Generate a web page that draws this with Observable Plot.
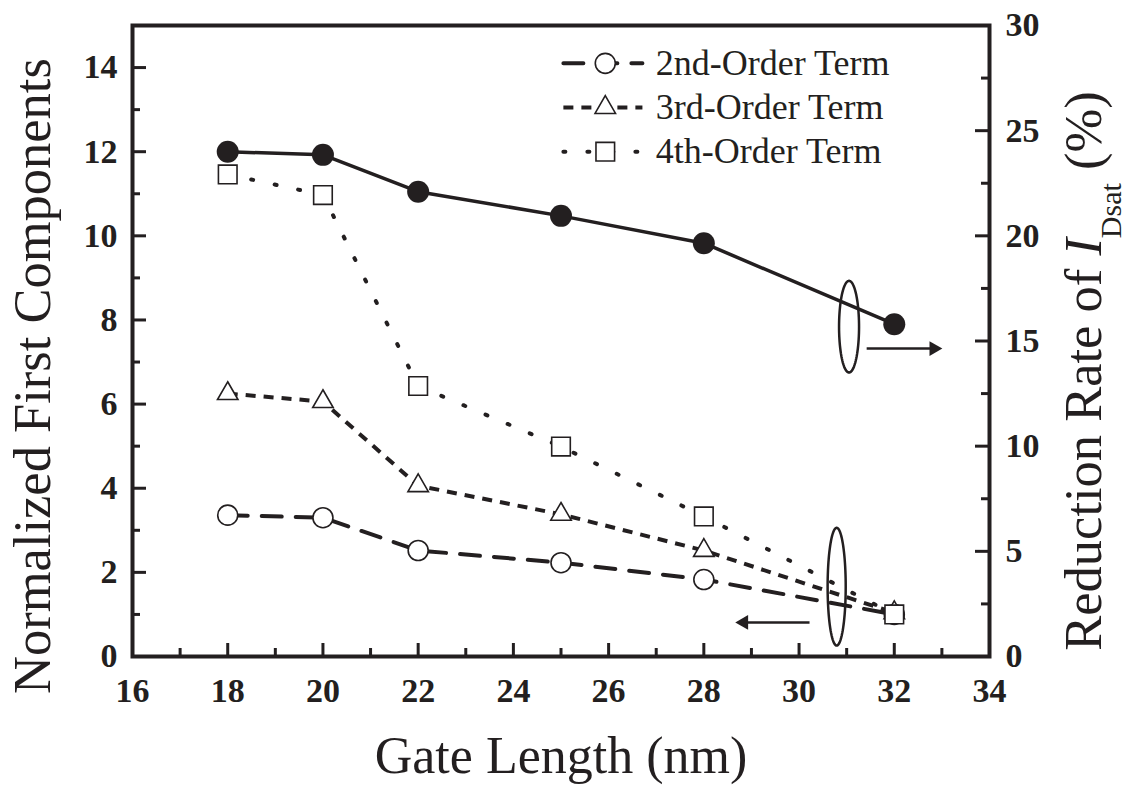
<!DOCTYPE html>
<html>
<head>
<meta charset="utf-8">
<script src="https://cdn.jsdelivr.net/npm/d3@7"></script>
<script src="https://cdn.jsdelivr.net/npm/@observablehq/plot@0.6"></script>
<style>
  html, body { margin: 0; padding: 0; background: #fff; }
  #chart { width: 1130px; height: 787px; }
  #chart svg, #chart svg text, #chart svg tspan {
    font-family: "Liberation Serif", "Times New Roman", Times, "DejaVu Serif", serif !important;
  }
</style>
</head>
<body>
<div id="chart"></div>
<script>
// ---- data ----
const gateLength    = [18, 20, 22, 25, 28, 32];
const reductionRate = [24.0, 23.85, 22.1, 20.95, 19.65, 15.8]; // right axis, %
const secondOrder   = [3.36, 3.30, 2.52, 2.23, 1.83, 1.00];
const thirdOrder    = [6.25, 6.06, 4.06, 3.38, 2.52, 1.04];
const fourthOrder   = [11.46, 10.97, 6.43, 4.99, 3.33, 1.00];

const xTickLabels     = [16, 18, 20, 22, 24, 26, 28, 30, 32, 34];
const xMinorTicks     = [17, 19, 21, 23, 25, 27, 29, 31, 33];
const leftTickLabels  = [0, 2, 4, 6, 8, 10, 12, 14];
const leftMinorTicks  = [1, 3, 5, 7, 9, 11, 13];
const rightTickLabels = [0, 5, 10, 15, 20, 25, 30];
const rightMinorTicks = [2.5, 7.5, 12.5, 17.5, 22.5, 27.5];

const seriesNames = ["2nd-Order Term", "3rd-Order Term", "4th-Order Term"];

// annotations (data units)
const ellipses = [
  {cx: 31.05, cy: 7.84, rx: 0.21, ry: 1.09},   // around right-axis series
  {cx: 30.79, cy: 1.66, rx: 0.19, ry: 1.40}    // around left-axis series
];
const arrows = [
  {x1: 31.42, x2: 32.95, y: 7.32, dir: 1},
  {x1: 30.22, x2: 28.72, y: 0.81, dir: -1}
];
// legend rows (data units)
const legendY = [14.1, 13.05, 12.0];
const legendX = {x1: 25.05, x2: 26.71, mark: 25.93, text: 26.99};

// ---- build tables ----
const rateData = gateLength.map((g, i) => ({g, v: reductionRate[i] / 2}));
const styles = [
  {dash: "20,14", cap: "round", symbol: "circle", r: 10},
  {dash: "10,8",  cap: "butt",  symbol: "triangle", r: 7.6},
  {dash: "2,22",  cap: "round", symbol: "square", r: 10.5}
];
const orderSeries = [secondOrder, thirdOrder, fourthOrder].map((vals, k) =>
  gateLength.map((g, i) => ({g, v: vals[i], k})));

function ellipsePts(e) {
  return d3.range(0, 361, 4).map(a => ({
    x: e.cx + e.rx * Math.cos(a * Math.PI / 180),
    y: e.cy + e.ry * Math.sin(a * Math.PI / 180)
  }));
}

const W = 1130, H = 787;
const mL = 132, mR = 141, mT = 25, mB = 131;
const fw = W - mL - mR, fh = H - mT - mB;
const font = "'Liberation Serif', 'Times New Roman', Times, 'DejaVu Serif', serif";
const ink = "#231f20";

const marks = [];

// inward ticks
marks.push(Plot.tickY(leftTickLabels,  {y: d => d, insetRight: fw - 14, strokeWidth: 3, stroke: ink}));
marks.push(Plot.tickY(leftMinorTicks,  {y: d => d, insetRight: fw - 8,  strokeWidth: 3, stroke: ink}));
marks.push(Plot.tickY(rightTickLabels, {y: d => d / 2, insetLeft: fw - 14, strokeWidth: 3, stroke: ink}));
marks.push(Plot.tickY(rightMinorTicks, {y: d => d / 2, insetLeft: fw - 8,  strokeWidth: 3, stroke: ink}));
marks.push(Plot.tickX(xTickLabels,     {x: d => d, insetTop: fh - 13, strokeWidth: 3, stroke: ink}));
marks.push(Plot.tickX(xMinorTicks,     {x: d => d, insetTop: fh - 8,  strokeWidth: 3, stroke: ink}));

// axis labels
marks.push(Plot.axisX({ticks: xTickLabels, tickSize: 0, tickPadding: 21, fontSize: 34, fontWeight: "bold", label: null, fill: ink}));
marks.push(Plot.axisY({anchor: "left", ticks: leftTickLabels, tickSize: 0, tickPadding: 15, fontSize: 34, fontWeight: "bold", label: null, fill: ink}));
marks.push(Plot.axisY({anchor: "right", ticks: rightTickLabels.map(d => d / 2), tickFormat: d => String(d * 2), tickSize: 0, tickPadding: 16, fontSize: 34, fontWeight: "bold", label: null, fill: ink}));

// series lines
orderSeries.forEach((data, k) => {
  marks.push(Plot.line(data, {x: "g", y: "v", stroke: ink, strokeWidth: 4,
    strokeDasharray: styles[k].dash, strokeLinecap: styles[k].cap}));
});
marks.push(Plot.line(rateData, {x: "g", y: "v", stroke: ink, strokeWidth: 3.5}));

// series markers
orderSeries.forEach((data, k) => {
  marks.push(Plot.dot(data, {x: "g", y: "v", symbol: styles[k].symbol, r: styles[k].r,
    fill: "white", stroke: ink, strokeWidth: 1.6}));
});
marks.push(Plot.dot(rateData, {x: "g", y: "v", r: 11, fill: ink, stroke: "none"}));

// annotations: ellipses and arrows
ellipses.forEach(e => {
  marks.push(Plot.line(ellipsePts(e), {x: "x", y: "y", stroke: ink, strokeWidth: 2.5, curve: "linear-closed"}));
});
marks.push(Plot.link(arrows, {x1: "x1", x2: d => d.x2 - d.dir * 0.2, y1: "y", y2: "y", stroke: ink, strokeWidth: 2.5}));
marks.push(Plot.dot(arrows, {x: d => d.x2 - d.dir * 0.12, y: "y", symbol: "triangle", r: 5.5, rotate: d => d.dir * 90, fill: ink, stroke: "none"}));

// legend
seriesNames.forEach((name, k) => {
  const row = [{x: legendX.x1, y: legendY[k]}, {x: legendX.x2, y: legendY[k]}];
  marks.push(Plot.line(row, {x: "x", y: "y", stroke: ink, strokeWidth: 4,
    strokeDasharray: styles[k].dash, strokeLinecap: styles[k].cap}));
  marks.push(Plot.dot([{x: legendX.mark, y: legendY[k]}], {x: "x", y: "y", symbol: styles[k].symbol, r: styles[k].r,
    fill: "white", stroke: ink, strokeWidth: 1.6}));
  marks.push(Plot.text([name], {x: legendX.text, y: legendY[k], text: d => d, textAnchor: "start", fontSize: 36, fill: ink}));
});

marks.push(Plot.frame({stroke: ink, strokeWidth: 4}));

const svg = Plot.plot({
  width: W, height: H,
  marginLeft: mL, marginRight: mR, marginTop: mT, marginBottom: mB,
  x: {domain: [16, 34], axis: null},
  y: {domain: [0, 15], axis: null},
  style: {fontFamily: font, background: "white", color: ink},
  marks
});

const s = d3.select(svg);
// x title
s.append("text").attr("x", 561).attr("y", 773).attr("text-anchor", "middle")
  .attr("font-size", 52).attr("fill", ink).text("Gate Length (nm)");
// left title
s.append("text").attr("transform", "translate(50,376) rotate(-90)").attr("text-anchor", "middle")
  .attr("font-size", 52.5).attr("fill", ink).text("Normalized First Components");
// right title with italic I and subscript
const rt = s.append("text").attr("transform", "translate(1101,371) rotate(-90)").attr("text-anchor", "middle")
  .attr("font-size", 52.5).attr("fill", ink);
rt.append("tspan").text("Reduction Rate of ");
rt.append("tspan").attr("font-style", "italic").text("I");
rt.append("tspan").attr("font-size", 30).attr("dy", 20).text("Dsat");
rt.append("tspan").attr("dy", -20).text(" (%)");

document.getElementById("chart").appendChild(svg);
</script>
</body>
</html>
